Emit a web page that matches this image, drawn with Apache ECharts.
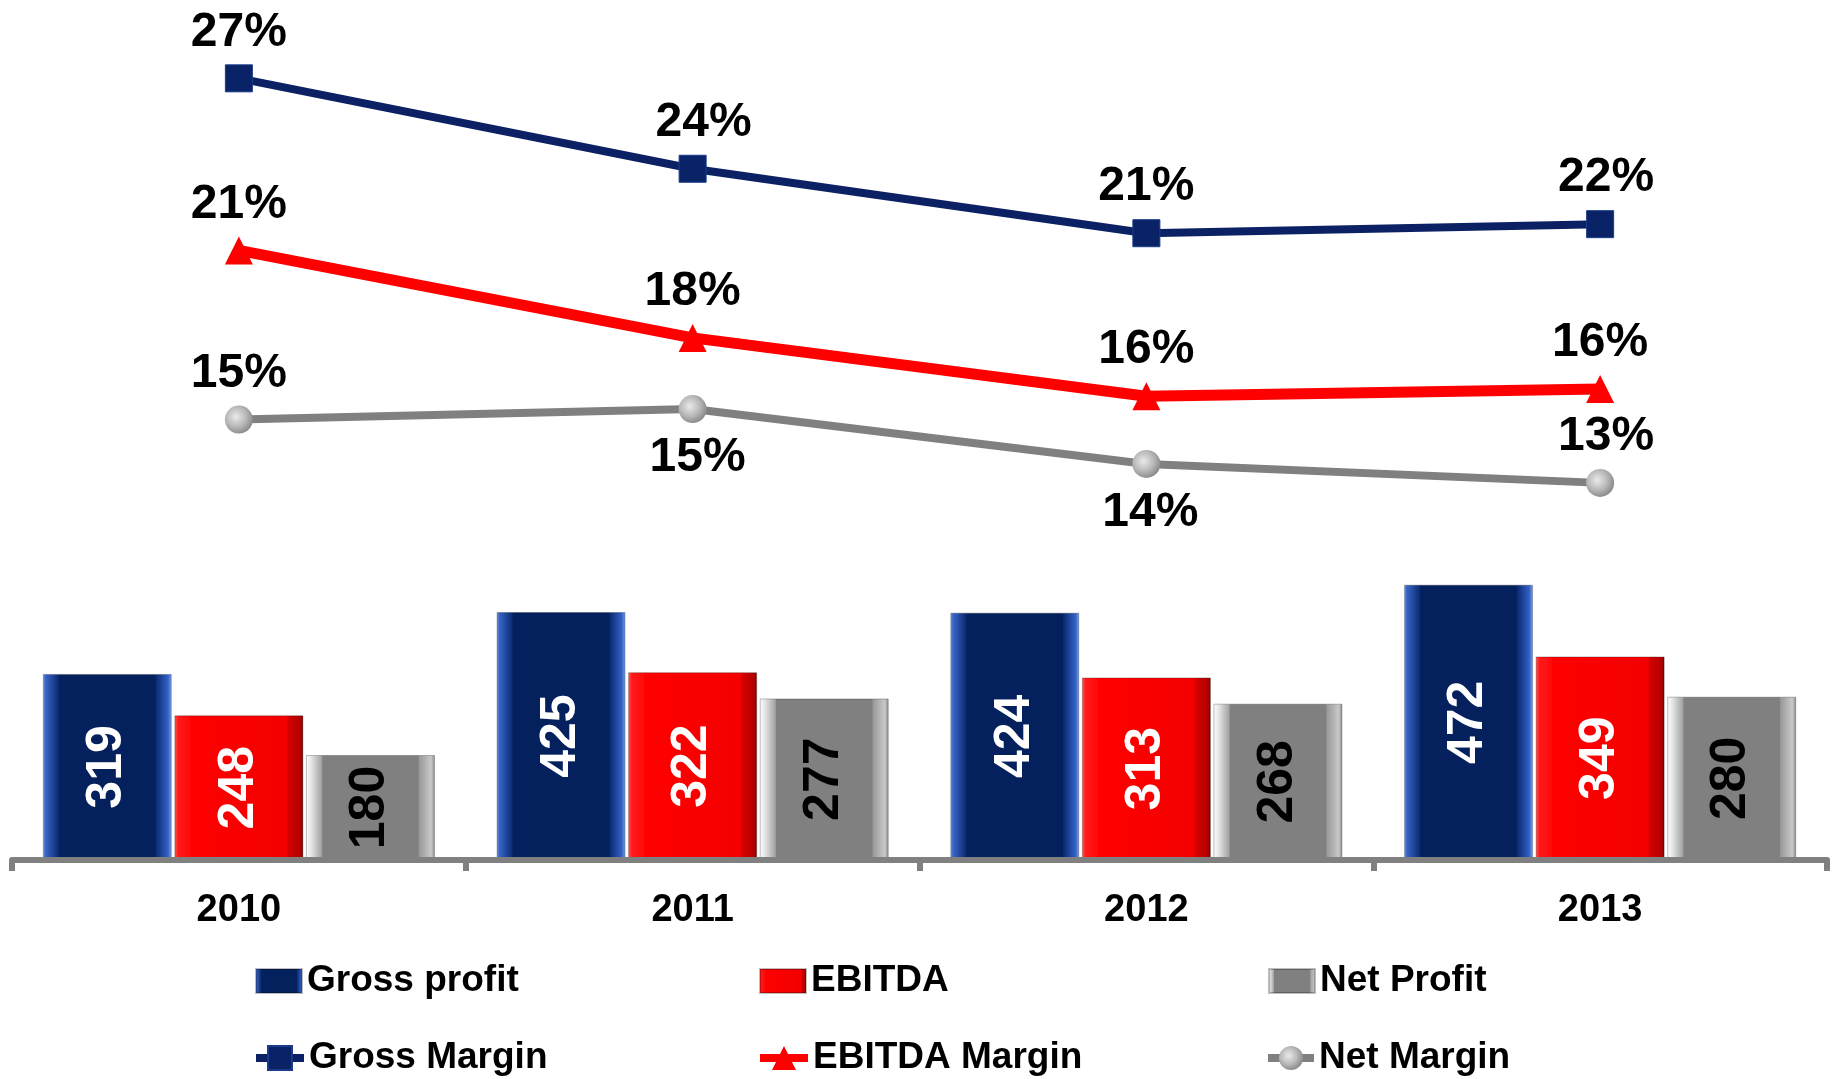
<!DOCTYPE html>
<html>
<head>
<meta charset="utf-8">
<script src="https://cdn.jsdelivr.net/npm/echarts@6/dist/echarts.min.js"></script>
<style>
  html, body { margin: 0; padding: 0; background: #fff; }
  #container { width: 1837px; height: 1079px; }
</style>
</head>
<body>
<div id="container"></div>
<script>
// data
var years = ['2010', '2011', '2012', '2013'];
var grossProfit = [319, 425, 424, 472];
var ebitda = [248, 322, 313, 349];
var netProfit = [180, 277, 268, 280];
var grossMargin = [26.8, 23.7, 21.49, 21.8];
var ebitdaMargin = [20.9, 17.9, 15.9, 16.15];
var netMargin = [15.1, 15.46, 13.58, 12.93];

// the percent labels look like a narrow bold face, fall back if it is missing
function hasFont(name) {
    var c = document.createElement('canvas').getContext('2d');
    c.font = 'bold 50px monospace';
    var w0 = c.measureText('24%').width;
    c.font = 'bold 50px "' + name + '", monospace';
    return c.measureText('24%').width !== w0;
}
var narrow = hasFont('Liberation Sans Narrow');
var pctFont = narrow ? '"Liberation Sans Narrow", "Liberation Sans", Arial, sans-serif' : '"Liberation Sans", Arial, sans-serif';
var pctSize = narrow ? 54 : 48;
var mainFont = '"Liberation Sans", Arial, sans-serif';

function hGrad(stops) {
    return new echarts.graphic.LinearGradient(0, 0, 1, 0, stops.map(function (s) {
        return { offset: s[0], color: s[1] };
    }));
}

var blueFill = hGrad([[0, '#7FA6EE'], [0.02, '#3A66C8'], [0.12, '#0C2C74'], [0.13, '#04215E'],
    [0.87, '#04215E'], [0.88, '#0B2C76'], [0.97, '#3260C4'], [1, '#7FA6EE']]);
var redFill = hGrad([[0, '#FF5A5A'], [0.03, '#FF1A1A'], [0.12, '#FF0A0A'], [0.13, '#FF0000'],
    [0.87, '#F40000'], [0.88, '#D80000'], [0.98, '#B00000'], [1, '#700000']]);
var grayFill = hGrad([[0, '#FFFFFF'], [0.04, '#E6E6E6'], [0.12, '#A4A4A4'], [0.13, '#808080'],
    [0.87, '#808080'], [0.88, '#9A9A9A'], [0.97, '#C8C8C8'], [1, '#8A8A8A']]);

var pctLabel = {
    show: true,
    position: 'top',
    distance: 8,
    fontFamily: pctFont,
    fontSize: pctSize,
    fontWeight: 'bold',
    color: '#000',
    formatter: function (p) { return Math.round(p.value) + '%'; }
};

function barSeries(name, values, fill, textColor) {
    return {
        name: name,
        type: 'bar',
        yAxisIndex: 0,
        barWidth: 129,
        barGap: '2%',
        data: values,
        itemStyle: { color: fill, borderColor: 'rgba(0,0,0,0.25)', borderWidth: 1 },
        label: {
            show: true,
            position: 'inside',
            rotate: 90,
            align: 'center',
            verticalAlign: 'middle',
            fontFamily: mainFont,
            fontSize: 50,
            fontWeight: 'bold',
            color: textColor
        },
        z: 2
    };
}

function withLabels(values, positions, offsets) {
    return values.map(function (v, i) {
        var d = { value: v };
        if (positions || offsets) {
            d.label = {};
            if (positions) {
                d.label.position = positions[i];
                if (positions[i] === 'bottom') d.label.distance = 11;
            }
            if (offsets) d.label.offset = offsets[i];
        }
        return d;
    });
}

var legendText = { fontFamily: mainFont, fontSize: 37, fontWeight: 'bold', color: '#000', lineHeight: 40 };
function legendAt(name, left, top, w, h, icon) {
    var lg = {
        data: [name], left: left, top: top, padding: 0,
        itemWidth: w, itemHeight: h, itemGap: 0,
        textStyle: legendText, selectedMode: false,
        lineStyle: { width: 8 }
    };
    if (icon) lg.icon = icon;
    return lg;
}

var chart = echarts.init(document.getElementById('container'));
chart.setOption({
    animation: false,
    backgroundColor: '#fff',
    grid: { left: 12, right: 10, top: 20, bottom: 219 },
    legend: [
        legendAt('Gross profit', 255, 961, 46, 24, 'rect'),
        legendAt('EBITDA', 759, 961, 46, 24, 'rect'),
        legendAt('Net Profit', 1268, 961, 46, 24, 'rect'),
        legendAt('Gross Margin', 252, 1038, 48, 30),
        legendAt('EBITDA Margin', 756, 1038, 48, 30),
        legendAt('Net Margin', 1264, 1038, 46, 30)
    ],
    xAxis: {
        type: 'category',
        data: years,
        boundaryGap: true,
        z: 3,
        axisLine: { show: true, lineStyle: { color: '#808080', width: 6 } },
        axisTick: { show: true, interval: 0, length: 11, lineStyle: { color: '#808080', width: 6 } },
        axisLabel: { margin: 32, fontFamily: mainFont, fontSize: 38, fontWeight: 'bold', color: '#000' },
        splitLine: { show: false }
    },
    yAxis: [
        { type: 'value', min: 0, max: 1440, show: false, splitLine: { show: false } },
        { type: 'value', min: 0, max: 28.8, show: false, splitLine: { show: false } }
    ],
    series: [
        barSeries('Gross profit', grossProfit, blueFill, '#fff'),
        barSeries('EBITDA', ebitda, redFill, '#fff'),
        barSeries('Net Profit', netProfit, grayFill, '#000'),
        {
            name: 'Gross Margin',
            type: 'line',
            yAxisIndex: 1,
            data: withLabels(grossMargin, null, [[0, 0], [11, 0], [0, 0], [6, 0]]),
            symbol: 'rect',
            symbolSize: 27,
            showAllSymbol: true,
            lineStyle: { color: '#0C2163', width: 8 },
            itemStyle: { color: '#0A2266', borderColor: '#1B3A8A', borderWidth: 1 },
            label: pctLabel,
            z: 5
        },
        {
            name: 'EBITDA Margin',
            type: 'line',
            yAxisIndex: 1,
            data: withLabels(ebitdaMargin, null, null),
            symbol: 'triangle',
            symbolSize: 28,
            showAllSymbol: true,
            lineStyle: { color: '#FF0000', width: 11 },
            itemStyle: { color: '#FF0000' },
            label: pctLabel,
            z: 5
        },
        {
            name: 'Net Margin',
            type: 'line',
            yAxisIndex: 1,
            data: withLabels(netMargin, ['top', 'bottom', 'bottom', 'top'], [[0, 0], [5, 0], [4, 0], [6, 0]]),
            symbol: 'circle',
            symbolSize: 28,
            showAllSymbol: true,
            lineStyle: { color: '#808080', width: 8 },
            itemStyle: {
                color: new echarts.graphic.RadialGradient(0.4, 0.4, 0.6, [
                    { offset: 0, color: '#EAEAEA' },
                    { offset: 0.6, color: '#B8B8B8' },
                    { offset: 1, color: '#8E8E8E' }
                ])
            },
            label: pctLabel,
            z: 5
        }
    ]
});
</script>
</body>
</html>
